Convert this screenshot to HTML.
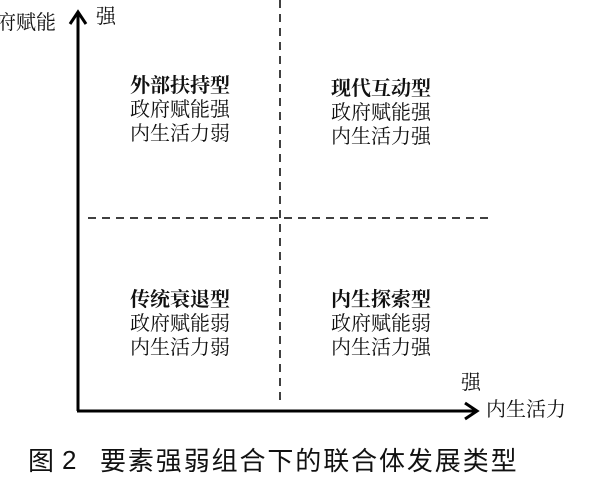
<!DOCTYPE html>
<html><head><meta charset="utf-8"><style>
body{margin:0;width:602px;height:486px;background:#fff;overflow:hidden;position:relative;font-family:"Liberation Serif","Noto Serif CJK SC",serif;color:#111}
.t{position:absolute;font-size:20px;line-height:24px;white-space:nowrap}
.b{font-weight:bold}
.cap{position:absolute;top:441px;font-family:"Liberation Sans","Noto Sans CJK SC",sans-serif;font-size:26px;letter-spacing:1.9px;white-space:nowrap}
</style></head><body>
<svg width="602" height="486" style="position:absolute;left:0;top:0">
<line x1="78" y1="411" x2="78" y2="14" stroke="#000" stroke-width="3"/>
<polyline points="70,24 78,12 86,24" fill="none" stroke="#000" stroke-width="3"/>
<line x1="77" y1="411" x2="476" y2="411" stroke="#000" stroke-width="3"/>
<polyline points="465,403 477,411 465,419" fill="none" stroke="#000" stroke-width="3"/>
<line x1="280" y1="0" x2="280" y2="405" stroke="#000" stroke-width="1.5" stroke-dasharray="8,6"/>
<line x1="88" y1="218" x2="492" y2="218" stroke="#000" stroke-width="1.5" stroke-dasharray="8,6"/>
</svg>
<div class="t" style="left:-4px;top:11px">府赋能</div>
<div class="t" style="left:96px;top:5px">强</div>
<div class="t" style="left:130px;top:74px"><span class="b">外部扶持型</span><br>政府赋能强<br>内生活力弱</div>
<div class="t" style="left:331px;top:77px"><span class="b">现代互动型</span><br>政府赋能强<br>内生活力强</div>
<div class="t" style="left:130px;top:288px"><span class="b">传统衰退型</span><br>政府赋能弱<br>内生活力弱</div>
<div class="t" style="left:331px;top:288px"><span class="b">内生探索型</span><br>政府赋能弱<br>内生活力强</div>
<div class="t" style="left:461px;top:371px">强</div>
<div class="t" style="left:486px;top:398px">内生活力</div>
<div class="cap" style="left:28px">图</div>
<div class="cap" style="left:62px;top:445px">2</div>
<div class="cap" style="left:100px">要素强弱组合下的联合体发展类型</div>
</body></html>
